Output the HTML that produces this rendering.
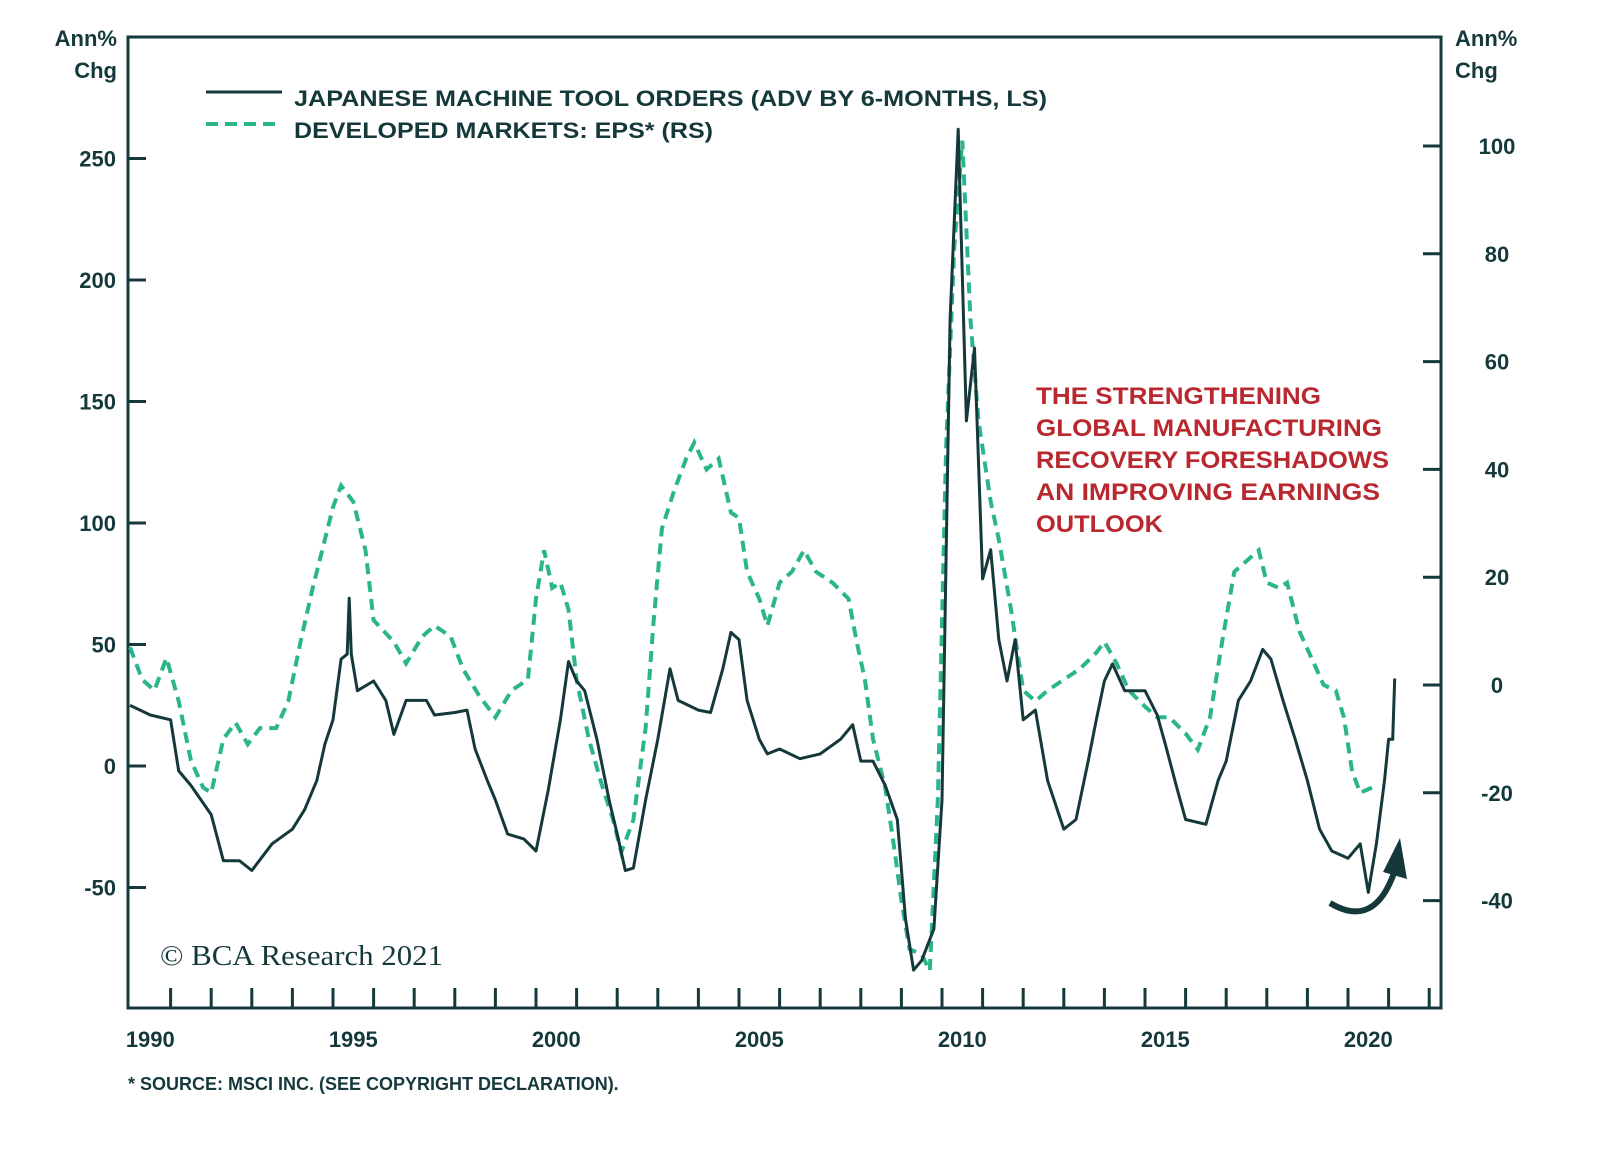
<!DOCTYPE html>
<html><head><meta charset="utf-8"><style>
html,body{margin:0;padding:0;background:#fff;}
svg{display:block;font-family:"Liberation Sans",Arial,sans-serif;}
</style></head><body>
<svg id="chart" width="1600" height="1151" viewBox="0 0 1600 1151" xmlns="http://www.w3.org/2000/svg">
<rect x="0" y="0" width="1600" height="1151" fill="#fff"/>
<g id="axes"></g>
<g id="series"></g>
<text x="117" y="46" text-anchor="end" font-size="22" font-weight="bold" fill="#15393b">Ann%</text>
<text x="117" y="78" text-anchor="end" font-size="22" font-weight="bold" fill="#15393b">Chg</text>
<text x="1455" y="46" font-size="22" font-weight="bold" fill="#15393b">Ann%</text>
<text x="1455" y="78" font-size="22" font-weight="bold" fill="#15393b">Chg</text>
<g>
<line x1="206" y1="92" x2="282" y2="92" stroke="#15393b" stroke-width="3"/>
<text x="294" y="106" font-size="22" font-weight="bold" fill="#15393b" textLength="753" lengthAdjust="spacingAndGlyphs">JAPANESE MACHINE TOOL ORDERS (ADV BY 6-MONTHS, LS)</text>
<line x1="206" y1="124" x2="282" y2="124" stroke="#2bb58a" stroke-width="4" stroke-dasharray="12,7"/>
<text x="294" y="138" font-size="22" font-weight="bold" fill="#15393b" textLength="419" lengthAdjust="spacingAndGlyphs">DEVELOPED MARKETS: EPS* (RS)</text>
</g>
<g font-size="24" font-weight="bold" fill="#b8282e">
<text x="1036" y="404" textLength="285" lengthAdjust="spacingAndGlyphs">THE STRENGTHENING</text>
<text x="1036" y="436" textLength="346" lengthAdjust="spacingAndGlyphs">GLOBAL MANUFACTURING</text>
<text x="1036" y="468" textLength="353" lengthAdjust="spacingAndGlyphs">RECOVERY FORESHADOWS</text>
<text x="1036" y="500" textLength="344" lengthAdjust="spacingAndGlyphs">AN IMPROVING EARNINGS</text>
<text x="1036" y="532" textLength="127" lengthAdjust="spacingAndGlyphs">OUTLOOK</text>
</g>
<g>
<path d="M1330,903 Q1375,930 1395,870" fill="none" stroke="#15393b" stroke-width="6"/>
<polygon points="1383,872 1400,838 1407,879" fill="#15393b"/>
</g>
<text x="160" y="965" font-family="Liberation Serif,serif" font-size="28" fill="#15393b" textLength="283" lengthAdjust="spacingAndGlyphs">© BCΑ Research 2021</text>
<text x="128" y="1090" font-size="18" font-weight="bold" fill="#15393b">* SOURCE: MSCI INC. (SEE COPYRIGHT DECLARATION).</text>
</svg>
<script>
const leftTicks=[250,200,150,100,50,0,-50];
const rightTicks=[100,80,60,40,20,0,-20,-40];
const yearLabels=[1990,1995,2000,2005,2010,2015,2020];
const ordersYears=[1990,1990.5,1991,1991.2,1991.5,1992,1992.3,1992.7,1993,1993.5,1994,1994.3,1994.6,1994.8,1995,1995.2,1995.35,1995.4,1995.45,1995.6,1996,1996.3,1996.5,1996.8,1997,1997.3,1997.5,1998,1998.3,1998.5,1998.8,1999,1999.3,1999.7,2000,2000.3,2000.6,2000.8,2001,2001.2,2001.5,2001.8,2002,2002.2,2002.4,2002.7,2003,2003.3,2003.5,2004,2004.3,2004.6,2004.8,2005,2005.2,2005.5,2005.7,2006,2006.5,2007,2007.5,2007.8,2008,2008.3,2008.6,2008.9,2009.1,2009.3,2009.5,2009.8,2010,2010.2,2010.4,2010.6,2010.8,2011,2011.2,2011.4,2011.6,2011.8,2012,2012.3,2012.6,2013,2013.3,2013.6,2013.8,2014,2014.2,2014.5,2015,2015.3,2015.5,2015.8,2016,2016.5,2016.8,2017,2017.3,2017.6,2017.9,2018.1,2018.4,2018.7,2019,2019.3,2019.6,2020,2020.3,2020.5,2020.7,2020.9,2021,2021.1,2021.15];
const ordersValues=[25,21,19,-2,-8,-20,-39,-39,-43,-32,-26,-18,-6,9,19,44,46,69,46,31,35,27,13,27,27,27,21,22,23,7,-6,-14,-28,-30,-35,-10,19,43,35,31,11,-14,-28,-43,-42,-14,11,40,27,23,22,40,55,52,27,11,5,7,3,5,11,17,2,2,-8,-22,-63,-84,-80,-67,-14,184,262,142,172,77,89,52,35,52,19,23,-6,-26,-22,2,19,35,42,31,31,21,9,-10,-22,-24,-6,2,27,35,48,44,27,11,-6,-26,-35,-38,-32,-52,-32,-6,11,11,36];
const epsYears=[1990,1990.3,1990.6,1990.9,1991.2,1991.5,1991.8,1992,1992.3,1992.6,1992.9,1993.2,1993.6,1993.9,1994.2,1994.5,1994.8,1995,1995.2,1995.5,1995.8,1996,1996.5,1996.8,1997.2,1997.5,1997.9,1998.2,1998.6,1999,1999.4,1999.8,2000,2000.2,2000.4,2000.6,2000.8,2001,2001.3,2001.6,2001.9,2002.1,2002.4,2002.7,2002.9,2003.1,2003.4,2003.7,2003.9,2004.2,2004.5,2004.8,2005,2005.2,2005.5,2005.7,2006,2006.3,2006.6,2006.9,2007.3,2007.7,2007.9,2008.1,2008.3,2008.6,2008.8,2009,2009.2,2009.5,2009.7,2009.9,2010.1,2010.3,2010.5,2010.7,2010.9,2011.2,2011.4,2011.7,2012,2012.3,2012.6,2013,2013.4,2013.8,2014,2014.3,2014.6,2015,2015.3,2015.6,2016,2016.3,2016.6,2016.9,2017.2,2017.5,2017.8,2018,2018.3,2018.5,2018.8,2019.1,2019.4,2019.7,2019.9,2020.1,2020.3,2020.6];
const epsValues=[7,1,-1,5,-3,-14,-19,-20,-10,-7,-11,-8,-8,-3,8,18,27,33,37,34,25,12,8,4,9,11,9,3,-2,-6,-1,1,16,25,18,19,14,1,-10,-18,-25,-31,-25,-8,12,29,36,42,45,40,42,32,31,21,16,11,19,21,25,21,19,16,8,1,-10,-19,-29,-40,-49,-50,-53,-21,44,81,101,68,49,34,27,14,-1,-3,-1,1,3,6,8,4,-1,-4,-6,-6,-9,-12,-6,8,21,23,25,19,18,19,10,5,0,-1,-6,-16,-20,-19];

const NS='http://www.w3.org/2000/svg';
const L=128,R=1441,T=37,B=1008;
function xs(y){return 333+(y-1995)*40.6;}
function yl(v){return 766-2.43*v;}
function yr(v){return 685-5.39*v;}
function mk(tag,attrs,parent){const e=document.createElementNS(NS,tag);for(const k in attrs)e.setAttribute(k,attrs[k]);parent.appendChild(e);return e;}
const ax=document.getElementById('axes');
const frame=mk('rect',{x:L,y:T,width:R-L,height:B-T,fill:'none',stroke:'#15393b','stroke-width':3},ax);


leftTicks.forEach(v=>{
  const t=mk('line',{x1:L,x2:L+18,y1:yl(v),y2:yl(v),stroke:'#15393b','stroke-width':3},ax);
  
  
  const tx=mk('text',{x:116,y:yl(v)+8,'text-anchor':'end','font-size':22,'font-weight':'bold',fill:'#15393b'},ax);
  tx.textContent=v;
  
  
});
rightTicks.forEach(v=>{
  const t=mk('line',{x1:R-18,x2:R,y1:yr(v),y2:yr(v),stroke:'#15393b','stroke-width':3},ax);
  
  
  const tx=mk('text',{x:1497,y:yr(v)+8,'text-anchor':'middle','font-size':22,'font-weight':'bold',fill:'#15393b'},ax);
  tx.textContent=v;
  
  
});
for(let y=1991;y<=2022;y++){
  const t=mk('line',{x1:xs(y),x2:xs(y),y1:B-20,y2:B,stroke:'#15393b','stroke-width':3},ax);
  
  
}
yearLabels.forEach(y=>{
  const tx=mk('text',{x:xs(y+0.5),y:1047,'text-anchor':'middle','font-size':22,'font-weight':'bold',fill:'#15393b'},ax);
  tx.textContent=y;
  
  
});
const sg=document.getElementById('series');
const eps=mk('path',{d:epsYears.map((y,i)=>(i?'L':'M')+xs(y).toFixed(1)+','+yr(epsValues[i]).toFixed(1)).join(''),fill:'none',stroke:'#2bb58a','stroke-width':4,'stroke-dasharray':'11,7'},sg);


const ord=mk('path',{d:ordersYears.map((y,i)=>(i?'L':'M')+xs(y).toFixed(1)+','+yl(ordersValues[i]).toFixed(1)).join(''),fill:'none',stroke:'#15393b','stroke-width':3,'stroke-linejoin':'round'},sg);


</script>
</body></html>
